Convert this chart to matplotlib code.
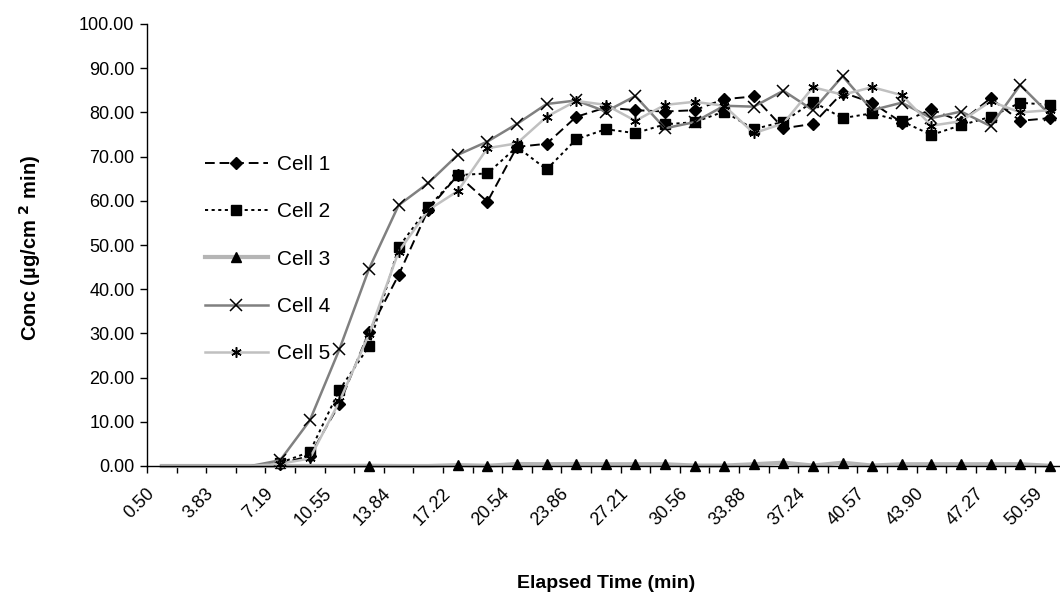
import matplotlib
matplotlib.use('Agg')
from matplotlib import pyplot as plt
from matplotlib.transforms import ScaledTranslation

plt.rcParams['font.family'] = ['Liberation Sans', 'DejaVu Sans']

# 31 时间点, 每隔一个标注
tick_labels = ['0.50', '3.83', '7.19', '10.55', '13.84', '17.22', '20.54', '23.86',
               '27.21', '30.56', '33.88', '37.24', '40.57', '43.90', '47.27', '50.59']

cell1 = [0, 0, 0, 0, 0.5, 2.3, 14.0, 30.4, 43.2, 58.0, 65.8, 59.8, 72.2, 72.9, 79.0, 81.1,
         80.5, 80.2, 80.5, 83.0, 83.6, 76.4, 77.4, 84.5, 82.2, 77.7, 80.7, 77.9, 83.2, 78.1, 78.7]
cell2 = [0, 0, 0, 0, 0.7, 3.2, 17.2, 27.1, 49.5, 58.5, 65.8, 66.2, 72.2, 67.1, 73.9, 76.2,
         75.3, 77.3, 77.8, 80.2, 76.2, 77.9, 82.4, 78.7, 79.8, 78.0, 74.9, 77.1, 79.0, 82.2, 81.7]
cell3 = [0, 0, 0, 0, 0, 0, 0, 0.05, 0, 0, 0.2, 0.05, 0.45, 0.4, 0.45, 0.4,
         0.4, 0.4, 0.1, 0.1, 0.4, 0.75, 0.1, 0.75, 0.1, 0.4, 0.4, 0.4, 0.4, 0.4, 0.05]
cell4 = [0, 0, 0, 0, 1.3, 10.3, 26.4, 44.6, 59.0, 64.0, 70.4, 73.4, 77.4, 81.9, 82.7, 80.2,
         83.7, 76.4, 77.8, 81.5, 81.3, 84.9, 80.5, 88.2, 80.5, 82.2, 78.7, 80.2, 76.9, 86.2, 79.5]
cell5 = [0, 0, 0, 0, 0.5, 1.7, 14.6, 29.8, 48.5, 57.9, 62.2, 71.9, 73.0, 79.0, 82.6, 81.7,
         78.1, 81.7, 82.4, 81.5, 75.3, 77.5, 85.7, 84.0, 85.7, 83.9, 77.0, 78.0, 82.5, 80.0, 80.5]

series = [
    ('Cell 1', cell1, dict(color='black', lw=1.4, dashes=(5, 2.5), marker='D', ms=6,
                           mfc='black', mec='black')),
    ('Cell 2', cell2, dict(color='black', lw=1.4, dashes=(1.6, 1.8), marker='s', ms=6.5,
                           mfc='black', mec='black')),
    ('Cell 3', cell3, dict(color='#b5b5b5', lw=3, marker='^', ms=7.5,
                           mfc='black', mec='black')),
    ('Cell 4', cell4, dict(color='#808080', lw=1.8, marker='x', ms=8.5, mew=1.1,
                           mfc='black', mec='black')),
    ('Cell 5', cell5, dict(color='#c0c0c0', lw=1.8, marker=(6, 2, 0), ms=7.5, mew=1.1,
                           mfc='black', mec='black')),
]

fig = plt.figure(figsize=(10.6, 6.02), dpi=100)
ax = fig.add_axes([147 / 1060, 136 / 602, 917.6 / 1060, 442 / 602])

x = list(range(len(cell1)))
for name, y, style in series:
    # 值为0的点不画标记
    marks = [i for i, v in enumerate(y) if v > 0]
    ax.plot(x, y, label=name, markevery=marks, clip_on=False, **style)

ax.set_xlim(-0.5, len(x) - 0.5)
ax.set_ylim(0, 100)

ax.set_yticks(range(0, 101, 10))
ax.set_yticklabels([f'{v:.2f}' for v in range(0, 101, 10)], fontsize=13)
ax.tick_params(axis='y', direction='out', length=5, width=1, pad=4)

ax.set_xticks([i - 0.5 for i in range(len(x) + 1)])
ax.set_xticklabels([])
ax.tick_params(axis='x', which='major', direction='out', length=5, width=1)
ax.set_xticks(list(range(0, len(x), 2)), minor=True)
ax.set_xticklabels(tick_labels, minor=True, rotation=45, ha='right', va='center',
                   rotation_mode='anchor', fontsize=13)
ax.tick_params(axis='x', which='minor', length=0, pad=18)
shift = ScaledTranslation(-10 / 100, 0, fig.dpi_scale_trans)
for lab in ax.get_xticklabels(minor=True):
    lab.set_transform(lab.get_transform() + shift)

for side in ['top', 'right']:
    ax.spines[side].set_visible(False)
for side in ['left', 'bottom']:
    ax.spines[side].set_linewidth(1)

fig.text(30 / 1060, 1 - 248 / 602, r'Conc (µg/cm $^{\mathbf{2}}$ min)', rotation=90,
         ha='center', va='center', fontsize=14.5, fontweight='bold')
fig.text(606 / 1060, 1 - 583 / 602, 'Elapsed Time (min)', ha='center', va='center',
         fontsize=14, fontweight='bold')

ax.legend(loc='upper left', bbox_to_anchor=(58 / 917.6, 1 - 131 / 442), frameon=False,
          fontsize=15, handlelength=3.0, handletextpad=0.45, labelspacing=1.36,
          borderpad=0, borderaxespad=0)

fig.savefig('out.png', dpi=100)
